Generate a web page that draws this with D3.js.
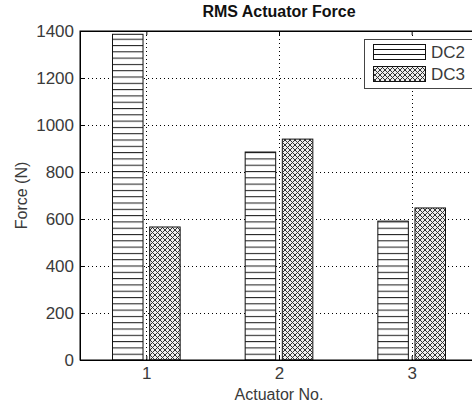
<!DOCTYPE html>
<html>
<head>
<meta charset="utf-8">
<script src="https://cdn.jsdelivr.net/npm/d3@7"></script>
<style>
body { margin: 0; background: #fff; }
svg { display: block; font-family: "Liberation Sans", Arial, sans-serif; }
</style>
</head>
<body>
<svg id="chart" width="472" height="408"></svg>
<script>
var categories = [1, 2, 3];
var seriesNames = ['DC2', 'DC3'];
var dc2 = [1386, 885, 591];
var dc3 = [566, 940, 647];
var yTicks = [0, 200, 400, 600, 800, 1000, 1200, 1400];

var svg = d3.select('#chart');
var plotL = 80, plotR = 478, plotT = 31, plotB = 360;

var x = d3.scaleLinear().domain([0.5, 3.5]).range([plotL, plotR]);
var y = d3.scaleLinear().domain([0, 1400]).range([plotB, plotT]);

var defs = svg.append('defs');
// horizontal hatch
var ph = defs.append('pattern').attr('id', 'hatchH')
	.attr('patternUnits', 'userSpaceOnUse')
	.attr('width', 10).attr('height', 6.3)
	.attr('y', plotB);
ph.append('rect').attr('width', 10).attr('height', 6.3).attr('fill', '#fff');
ph.append('line').attr('x1', 0).attr('x2', 10).attr('y1', 0.5).attr('y2', 0.5)
	.attr('stroke', '#222').attr('stroke-width', 1.1);
// cross hatch
var pc = defs.append('pattern').attr('id', 'hatchX')
	.attr('patternUnits', 'userSpaceOnUse')
	.attr('width', 5).attr('height', 5);
pc.append('rect').attr('width', 5).attr('height', 5).attr('fill', '#eee');
pc.append('path').attr('d', 'M0,0L5,5M5,0L0,5M-1,4L1,6M4,-1L6,1M-1,1L1,-1M4,6L6,4')
	.attr('stroke', '#333').attr('stroke-width', 1);

var fills = ['url(#hatchH)', 'url(#hatchX)'];
var barW = 0.23, offs = [-0.14, 0.14];

// grid
var grid = svg.append('g').attr('stroke', '#000').attr('stroke-dasharray', '1,3').attr('stroke-width', 1);
yTicks.slice(1, -1).forEach(function(t) {
	grid.append('line').attr('x1', plotL).attr('x2', plotR)
		.attr('y1', Math.round(y(t)) + 0.5).attr('y2', Math.round(y(t)) + 0.5);
});
categories.forEach(function(c) {
	grid.append('line').attr('y1', plotT).attr('y2', plotB)
		.attr('x1', Math.round(x(c)) + 0.5).attr('x2', Math.round(x(c)) + 0.5);
});

// bars
[dc2, dc3].forEach(function(vals, si) {
	svg.append('g').selectAll('rect').data(vals).enter().append('rect')
		.attr('x', function(d, i) { return x(categories[i] + offs[si] - barW / 2); })
		.attr('width', x(barW) - x(0))
		.attr('y', function(d) { return y(d); })
		.attr('height', function(d) { return y(0) - y(d); })
		.attr('fill', fills[si])
		.attr('stroke', '#111').attr('stroke-width', 1);
});

// axes
var yAxis = d3.axisLeft(y).tickValues(yTicks).tickSizeInner(-4).tickSizeOuter(0).tickPadding(10).tickFormat(d3.format('d'));
var gy = svg.append('g').attr('transform', 'translate(' + plotL + ',0)').call(yAxis);
var xAxis = d3.axisBottom(x).tickValues(categories).tickSizeInner(-4).tickSizeOuter(0).tickPadding(6).tickFormat(d3.format('d'));
var gx = svg.append('g').attr('transform', 'translate(0,' + plotB + ')').call(xAxis);
svg.append('g').attr('transform', 'translate(0,' + plotT + ')')
	.call(d3.axisTop(x).tickValues(categories).tickSizeInner(-4).tickSizeOuter(0).tickFormat(''));
svg.append('g').attr('transform', 'translate(' + plotR + ',0)')
	.call(d3.axisRight(y).tickValues(yTicks).tickSizeInner(-4).tickSizeOuter(0).tickFormat(''));
svg.selectAll('.domain').attr('stroke', '#000');
svg.selectAll('.tick line').attr('stroke', '#000');
[gx, gy].forEach(function(g) {
	g.selectAll('text').attr('font-size', 17).attr('fill', '#3a3a3a')
		.attr('font-family', '"Liberation Sans", Arial, sans-serif');
});
gy.selectAll('text').attr('x', -6);
gx.selectAll('text').attr('y', 6).attr('dy', '0.75em');

// box
svg.append('rect').attr('x', plotL).attr('y', plotT).attr('width', plotR - plotL).attr('height', plotB - plotT)
	.attr('fill', 'none').attr('stroke', '#000');

// titles
svg.append('text').attr('x', (plotL + plotR) / 2).attr('y', 17).attr('text-anchor', 'middle')
	.attr('font-size', 16).attr('font-weight', 'bold').attr('fill', '#111').text('RMS Actuator Force');
svg.append('text').attr('x', (plotL + plotR) / 2).attr('y', 400).attr('text-anchor', 'middle')
	.attr('font-size', 16).attr('fill', '#3a3a3a').text('Actuator No.');
svg.append('text').attr('transform', 'translate(27,' + (plotT + plotB) / 2 + ') rotate(-90)')
	.attr('text-anchor', 'middle').attr('font-size', 16).attr('fill', '#3a3a3a').text('Force (N)');

// legend
var lg = svg.append('g');
lg.append('rect').attr('x', 364.5).attr('y', 39.5).attr('width', 130).attr('height', 49)
	.attr('fill', '#fff').attr('stroke', '#444');
seriesNames.forEach(function(name, i) {
	var sy = 44 + i * 22;
	lg.append('rect').attr('x', 373.5).attr('y', sy + 0.5).attr('width', 52).attr('height', 15)
		.attr('fill', i === 0 ? 'none' : fills[1]).attr('stroke', '#111');
	if (i === 0) {
		[5, 10].forEach(function(o) {
			lg.append('line').attr('x1', 373.5).attr('x2', 425.5)
				.attr('y1', sy + o + 0.5).attr('y2', sy + o + 0.5).attr('stroke', '#111');
		});
	}
	lg.append('text').attr('x', 431).attr('y', sy + 14).attr('font-size', 17).attr('fill', '#3a3a3a').text(name);
});
</script>
</body>
</html>
